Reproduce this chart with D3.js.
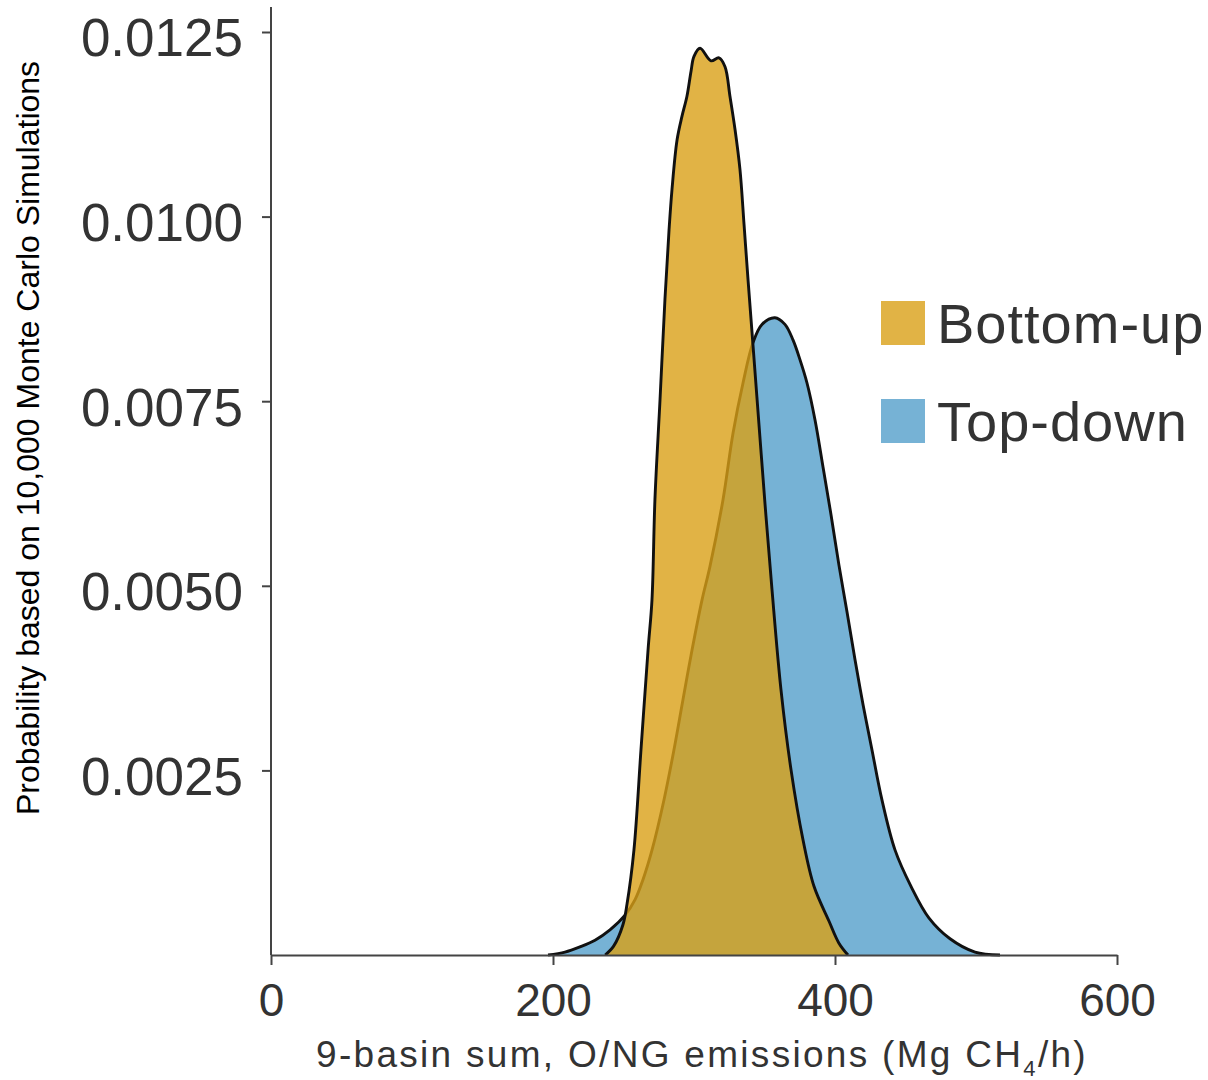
<!DOCTYPE html>
<html>
<head>
<meta charset="utf-8">
<script src="https://cdn.jsdelivr.net/npm/d3@7"></script>
<style>
    body { margin: 0; background: #ffffff; }
    text { font-family: "Liberation Sans", Arial, Helvetica, sans-serif; fill: #333333; }
</style>
</head>
<body>
<div id="chart"></div>
<script>
// Emission values (Mg CH4/h) and probabilities
const bottomUpEmission = [237, 243, 249.6, 252.5, 257.4, 262.4, 267.4, 270.2, 272.3, 275.9, 279.4, 282.3, 284.4, 288,
    291.5, 295, 297.9, 300, 304.3, 312.1, 317.7, 322, 325.5, 329.1, 332.6, 335.5, 338.3, 341.8, 346.1, 350.4, 355.3,
    361.7, 368.8, 377.3, 385.1, 395.7, 402.8, 409.2];
const bottomUpProb = [0, 0.00012, 0.00041, 0.00069, 0.00142, 0.00278, 0.00413, 0.00481, 0.00617, 0.00752, 0.00888,
    0.00982, 0.01037, 0.01104, 0.01136, 0.01163, 0.01197, 0.01217, 0.01228, 0.01211, 0.01215, 0.01203, 0.01163, 0.01118,
    0.01064, 0.00989, 0.00915, 0.00827, 0.00718, 0.0061, 0.00495, 0.00359, 0.00251, 0.00156, 0.00093, 0.00046, 0.00016, 0];

const topDownEmission = [196.5, 208.5, 219.1, 229.8, 240.4, 251.1, 258.2, 263.8, 270.2, 278.7, 285.8, 292.2, 298.6,
    305.7, 311.3, 320.6, 327.7, 334.8, 341.8, 348.2, 357.4, 364.5, 370.2, 375.2, 380.1, 385.8, 391.5, 397.2, 402.8,
    408.5, 414.2, 419.9, 426.2, 433.3, 442.6, 453.9, 466.7, 481.6, 499.3, 517];
const topDownProb = [0, 0.00004, 0.00011, 0.0002, 0.00034, 0.00054, 0.00075, 0.00102, 0.00142, 0.0021, 0.00278,
    0.00346, 0.00413, 0.00481, 0.00526, 0.00617, 0.00707, 0.00775, 0.00829, 0.00854, 0.00863, 0.00854, 0.00833, 0.00806,
    0.00775, 0.00725, 0.00661, 0.00596, 0.00528, 0.00465, 0.004, 0.00339, 0.00278, 0.0021, 0.00142, 0.00093, 0.0005,
    0.00022, 0.00004, 0];

const xTicks = [0, 200, 400, 600];
const yTicks = [0.0025, 0.005, 0.0075, 0.01, 0.0125];
const yTickLabels = ["0.0025", "0.0050", "0.0075", "0.0100", "0.0125"];
const legendNames = ["Bottom-up", "Top-down"];
const legendColors = ["#e1b345", "#76b2d5"];

let width = 1208;
let height = 1080;
let margin = {top: 32, right: 91, bottom: 125, left: 271};

let svg = d3.select("#chart")
    .append("svg")
    .attr("width", width)
    .attr("height", height);

let x = d3.scaleLinear()
    .domain([0, 600])
    .range([margin.left, width - margin.right]);

let y = d3.scaleLinear()
    .domain([0, 0.0125])
    .range([height - margin.bottom, margin.top]);

let area = d3.area()
    .x(d => x(d[0]))
    .y0(y(0))
    .y1(d => Math.min(y(0), y(d[1])))
    .curve(d3.curveCatmullRom.alpha(0.5));

let line = d3.line()
    .x(d => x(d[0]))
    .y(d => Math.min(y(0), y(d[1])))
    .curve(d3.curveCatmullRom.alpha(0.5));

let topDown = d3.zip(topDownEmission, topDownProb);
let bottomUp = d3.zip(bottomUpEmission, bottomUpProb);

// Top-down underneath, bottom-up translucent on top
svg.append("path")
    .datum(topDown)
    .attr("d", area)
    .attr("fill", "#76b2d5");

svg.append("path")
    .datum(topDown)
    .attr("d", line)
    .attr("fill", "none")
    .attr("stroke", "#111111")
    .attr("stroke-width", 2.9);

svg.append("path")
    .datum(bottomUp)
    .attr("d", area)
    .attr("fill", "rgb(218,160,22)")
    .attr("fill-opacity", 0.8);

svg.append("path")
    .datum(bottomUp)
    .attr("d", line)
    .attr("fill", "none")
    .attr("stroke", "#111111")
    .attr("stroke-width", 2.9);

// x axis
let xAxis = svg.append("g")
    .attr("transform", `translate(0, ${y(0)})`)
    .call(d3.axisBottom(x)
        .tickValues(xTicks)
        .tickSize(10)
        .tickSizeOuter(0)
        .tickPadding(18));

xAxis.select(".domain").attr("stroke", "#444444").attr("stroke-width", 2);
xAxis.selectAll(".tick line").attr("stroke", "#444444").attr("stroke-width", 2);
xAxis.selectAll(".tick text")
    .style("font-size", "46px")
    .style("font-family", "'Liberation Sans', Arial, sans-serif")
    .attr("fill", "#333333");

// y axis
let yAxis = svg.append("g")
    .attr("transform", `translate(${margin.left}, 0)`)
    .call(d3.axisLeft(y)
        .tickValues(yTicks)
        .tickFormat((d, i) => yTickLabels[i])
        .tickSize(9)
        .tickSizeOuter(0)
        .tickPadding(19));

yAxis.select(".domain").remove();
yAxis.append("line")
    .attr("x1", 0)
    .attr("x2", 0)
    .attr("y1", 7)
    .attr("y2", y(0))
    .attr("stroke", "#444444")
    .attr("stroke-width", 2);
yAxis.selectAll(".tick line").attr("stroke", "#444444").attr("stroke-width", 2);
yAxis.selectAll(".tick text")
    .attr("dy", "0.45em")
    .style("font-size", "53px")
    .style("font-family", "'Liberation Sans', Arial, sans-serif")
    .attr("fill", "#333333");

// axis titles
let xTitle = svg.append("text")
    .attr("x", (x(0) + x(600)) / 2 + 8)
    .attr("y", 1067)
    .attr("text-anchor", "middle")
    .style("font-size", "37px")
    .style("letter-spacing", "2.3px");
xTitle.append("tspan").text("9-basin sum, O/NG emissions (Mg CH");
xTitle.append("tspan").attr("dy", 9).style("font-size", "22px").text("4");
xTitle.append("tspan").attr("dy", -9).text("/h)");

svg.append("text")
    .attr("transform", "translate(39, 438) rotate(-90)")
    .attr("text-anchor", "middle")
    .style("font-size", "32px")
    .style("fill", "#000000")
    .text("Probability based on 10,000 Monte Carlo Simulations");

// legend
let legend = svg.selectAll(".legend")
    .data(legendNames)
    .join("g")
    .attr("class", "legend")
    .attr("transform", (d, i) => `translate(881, ${301 + i * 98})`);

legend.append("rect")
    .attr("width", 44)
    .attr("height", 44)
    .attr("fill", (d, i) => legendColors[i]);

legend.append("text")
    .attr("x", 56)
    .attr("y", 42)
    .style("font-size", "56px")
    .style("letter-spacing", "1px")
    .text(d => d);
</script>
</body>
</html>
